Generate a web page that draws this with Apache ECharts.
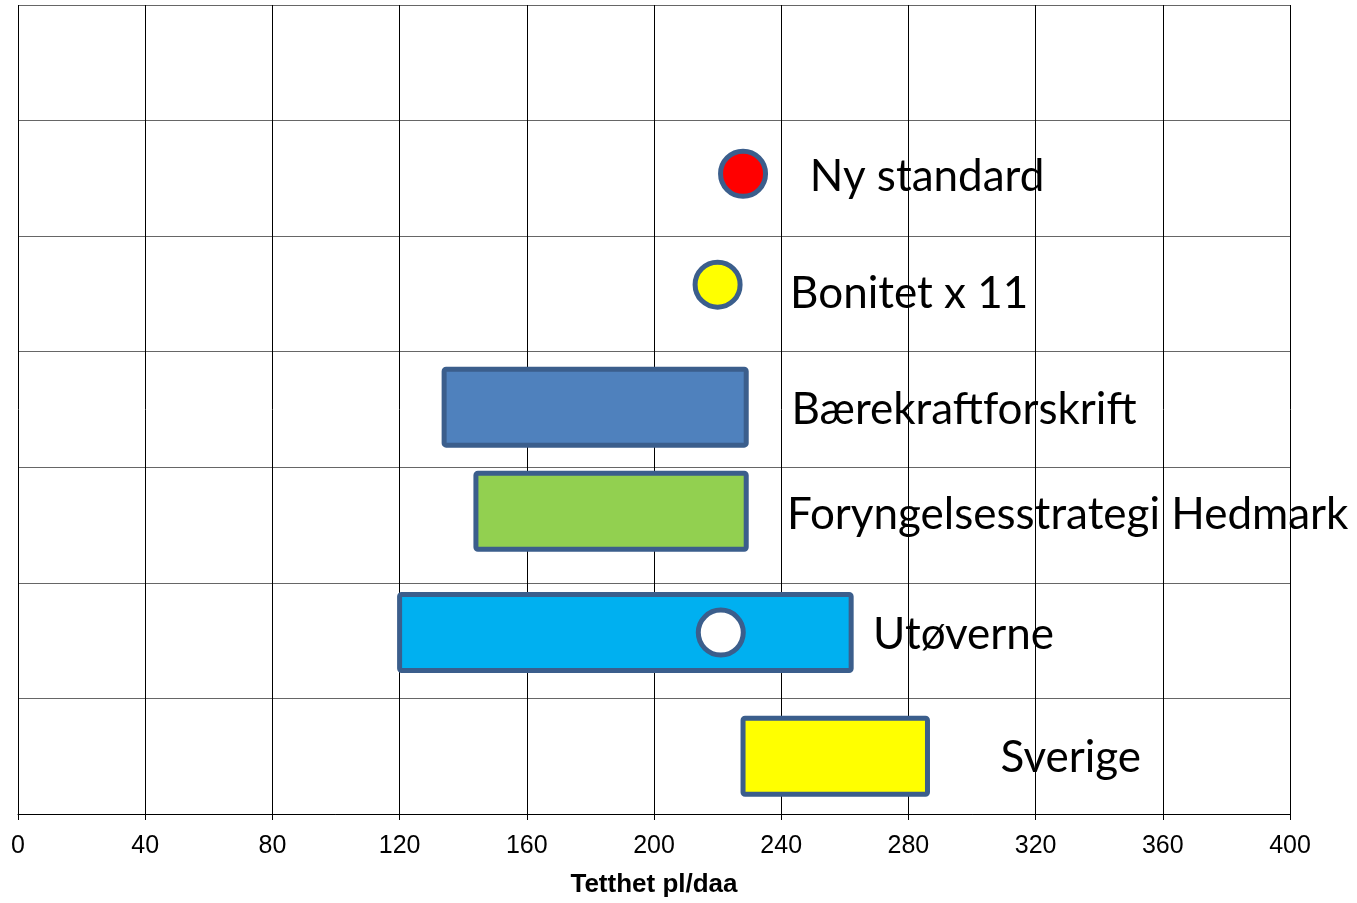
<!DOCTYPE html>
<html><head><meta charset="utf-8">
<script src="https://cdn.jsdelivr.net/npm/echarts@6/dist/echarts.min.js"></script>
<style>html,body{margin:0;padding:0;background:#fff;overflow:hidden}#c{width:1357px;height:903px}</style>
</head><body><div id="c"></div>
<script>
// Ranges (bars): name, low, high, row centre (y value, rows 0..7 from bottom)
const barNames = ["Bærekraftforskrift", "Foryngelsesstrategi Hedmark", "Utøverne", "Sverige"];
const barLow   = [134, 144, 120, 228];
const barHigh  = [229, 229, 262, 286];
const barRow   = [3.52, 2.62, 1.57, 0.50];
const barColors = ["#4F81BD", "#92D050", "#00B0F0", "#FFFF00"];

// Single values (points)
const pointNames = ["Ny standard", "Bonitet x 11", "Utøverne"];
const pointX     = [228, 220, 221];
const pointRow   = [5.54, 4.58, 1.57];
const pointColors = ["#FF0000", "#FFFF00", "#FFFFFF"];

// Annotation texts
const labelNames = ["Ny standard", "Bonitet x 11", "Bærekraftforskrift", "Foryngelsesstrategi Hedmark", "Utøverne", "Sverige"];
const labelX     = [249, 242.8, 243.2, 241.8, 268.9, 309];
const labelRow   = [5.51, 4.50, 3.50, 2.59, 1.55, 0.49];

const xTicks = [0, 40, 80, 120, 160, 200, 240, 280, 320, 360, 400];
const xTitle = "Tetthet pl/daa";

const BORDER = "#3B5E8C";
const chart = echarts.init(document.getElementById('c'), null, {renderer: 'canvas', width: 1357, height: 903});

const barData = barNames.map((n, i) => [barLow[i], barHigh[i], barRow[i], i]);
const pointData = pointNames.map((n, i) => ({value: [pointX[i], pointRow[i]], itemStyle: {color: pointColors[i]}}));
const labelData = labelNames.map((n, i) => [labelX[i], labelRow[i], i]);

chart.setOption({
  animation: false,
  backgroundColor: '#fff',
  grid: {left: 18, width: 1272, top: 5, height: 813, containLabel: false},
  xAxis: {
    type: 'value', min: xTicks[0], max: xTicks[xTicks.length - 1], interval: 40,
    axisLine: {show: true, lineStyle: {color: '#000', width: 1}},
    axisTick: {show: true, length: 6, lineStyle: {color: '#000'}},
    axisLabel: {color: '#000', fontSize: 25, fontFamily: 'Liberation Sans', margin: 20},
    splitLine: {show: true, lineStyle: {color: '#000', width: 1}},
    name: xTitle, nameLocation: 'middle', nameGap: 58,
    nameTextStyle: {color: '#000', fontSize: 26, fontWeight: 'bold', fontFamily: 'Liberation Sans'}
  },
  yAxis: {
    type: 'value', min: 0, max: 7, interval: 1,
    axisLine: {show: false}, axisTick: {show: false}, axisLabel: {show: false},
    splitLine: {show: true, lineStyle: {color: '#666', width: 1}}
  },
  series: [
    {
      type: 'custom', z: 2,
      renderItem: function (params, api) {
        const p0 = api.coord([api.value(0), api.value(2)]);
        const p1 = api.coord([api.value(1), api.value(2)]);
        const h = 76;
        const idx = api.value(3);
        return {
          type: 'rect',
          shape: {x: p0[0], y: p0[1] - h / 2, width: p1[0] - p0[0], height: h, r: 2},
          style: {fill: barColors[idx], stroke: BORDER, lineWidth: 5}
        };
      },
      encode: {x: [0, 1], y: 2},
      data: barData
    },
    {
      type: 'scatter', z: 3,
      symbol: 'circle', symbolSize: 45,
      itemStyle: {borderColor: BORDER, borderWidth: 5, opacity: 1},
      data: pointData
    },
    {
      type: 'custom', z: 4,
      renderItem: function (params, api) {
        const p = api.coord([api.value(0), api.value(1)]);
        return {
          type: 'text',
          style: {x: p[0], y: p[1], text: labelNames[api.value(2)], fill: '#000',
                  font: '44px Lato', textAlign: 'left', textVerticalAlign: 'middle'}
        };
      },
      encode: {x: 0, y: 1},
      data: labelData
    }
  ]
});
</script></body></html>
